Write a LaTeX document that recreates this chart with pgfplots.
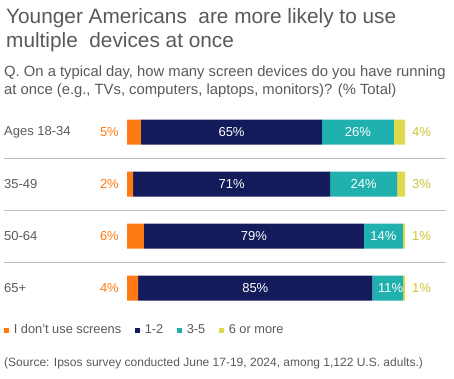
\documentclass[border=0pt]{standalone}
\usepackage{pgfplots}
\pgfplotsset{compat=1.18}
\usepackage{fontspec}
\setmainfont{Liberation Sans}
\definecolor{cOr}{HTML}{FF7A12}
\definecolor{cNv}{HTML}{141B5A}
\definecolor{cTl}{HTML}{20B1AF}
\definecolor{cYl}{HTML}{E2DA4E}
\definecolor{cYt}{HTML}{CFC433}
\definecolor{cGr}{HTML}{595959}
\definecolor{cSep}{HTML}{BFBFBF}
\tikzset{lab/.style={inner sep=0,font=\fontsize{13}{15}\selectfont}}
\begin{document}
\begin{tikzpicture}
\useasboundingbox (0pt,0pt) rectangle (454pt,378pt);
\node[anchor=base west,inner sep=0,text=cGr,font=\fontsize{20.8}{24}\selectfont] at (6pt,354pt) {Younger Americans\ \ are more likely to use};
\node[anchor=base west,inner sep=0,text=cGr,font=\fontsize{20.8}{24}\selectfont] at (6pt,330pt) {multiple\ \ devices at once};
\node[anchor=base west,inner sep=0,text=cGr,font=\fontsize{14.8}{17}\selectfont] at (4pt,301pt) {Q. On a typical day, how many screen devices do you have running};
\node[anchor=base west,inner sep=0,text=cGr,font=\fontsize{14.8}{17}\selectfont] at (4pt,283pt) {at once (e.g., TVs, computers, laptops, monitors)? (\% Total)};
\node[anchor=base west,inner sep=0,text=cGr,font=\fontsize{12.0}{15}\selectfont] at (4pt,12pt) {(Source: Ipsos survey conducted June 17-19, 2024, among 1,122 U.S. adults.)};
\draw[cSep,line width=0.9pt] (4pt,220pt) -- (446pt,220pt);
\draw[cSep,line width=0.9pt] (4pt,168pt) -- (446pt,168pt);
\draw[cSep,line width=0.9pt] (4pt,116pt) -- (446pt,116pt);
\begin{axis}[
  at={(127pt,64pt)}, anchor=south west,
  scale only axis, width=278pt, height=208pt,
  xmin=0, xmax=100, ymin=-0.5, ymax=3.5, y dir=reverse,
  xbar stacked, bar width=25pt,
  axis lines=none, clip=false,
  ytick=\empty, xtick=\empty,
  legend columns=4,
  legend style={draw=none, fill=none, at={(-0.442,-0.077)}, anchor=west,
    font=\fontsize{12.8}{15}\selectfont, text=cGr, inner sep=0pt,
    /tikz/every even column/.append style={column sep=12pt}},
  legend image code/.code={\fill[#1,draw=none] (0pt,-2.5pt) rectangle (5pt,2.5pt); \path (0pt,0pt) -- (7.5pt,0pt);},
  every axis plot/.append style={draw=none},
]
\addplot[fill=cOr] coordinates {(5,0) (2.2,1) (6.1,2) (4,3)};
\addplot[fill=cNv] coordinates {(65.1,0) (70.9,1) (79.1,2) (84.3,3)};
\addplot[fill=cTl] coordinates {(25.9,0) (24.1,1) (14,2) (11,3)};
\addplot[fill=cYl] coordinates {(4,0) (2.8,1) (0.8,2) (0.7,3)};
\legend{I don't use screens,1-2,3-5,6 or more}
\node[lab,anchor=west,text=cGr] at (axis cs:0,0) [xshift=-123pt] {Ages 18-34};
\node[lab,anchor=west,text=cGr] at (axis cs:0,1) [xshift=-123pt] {35-49};
\node[lab,anchor=west,text=cGr] at (axis cs:0,2) [xshift=-123pt] {50-64};
\node[lab,anchor=west,text=cGr] at (axis cs:0,3) [xshift=-123pt] {65+};
\node[lab,anchor=east,text=cOr] at (axis cs:0,0) [xshift=-8pt] {5\%};
\node[lab,anchor=east,text=cOr] at (axis cs:0,1) [xshift=-8pt] {2\%};
\node[lab,anchor=east,text=cOr] at (axis cs:0,2) [xshift=-8pt] {6\%};
\node[lab,anchor=east,text=cOr] at (axis cs:0,3) [xshift=-8pt] {4\%};
\node[lab,anchor=west,text=cYt] at (axis cs:100,0) [xshift=7pt] {4\%};
\node[lab,anchor=west,text=cYt] at (axis cs:100,1) [xshift=7pt] {3\%};
\node[lab,anchor=west,text=cYt] at (axis cs:100,2) [xshift=7pt] {1\%};
\node[lab,anchor=west,text=cYt] at (axis cs:100,3) [xshift=7pt] {1\%};
\coordinate (n0) at (axis cs:37.6,0);
\coordinate (n1) at (axis cs:37.65,1);
\coordinate (n2) at (axis cs:45.65,2);
\coordinate (n3) at (axis cs:46.15,3);
\coordinate (t0) at (axis cs:83.05,0);
\coordinate (t1) at (axis cs:85.15,1);
\coordinate (t2) at (axis cs:92.2,2);
\coordinate (t3) at (axis cs:94.8,3);
\end{axis}
\node[lab,text=white] at (n0) {65\%};
\node[lab,text=white] at (n1) {71\%};
\node[lab,text=white] at (n2) {79\%};
\node[lab,text=white] at (n3) {85\%};
\node[lab,text=white] at (t0) {26\%};
\node[lab,text=white] at (t1) {24\%};
\node[lab,text=white] at (t2) {14\%};
\node[lab,text=white] at (t3) {11\%};
\end{tikzpicture}
\end{document}
